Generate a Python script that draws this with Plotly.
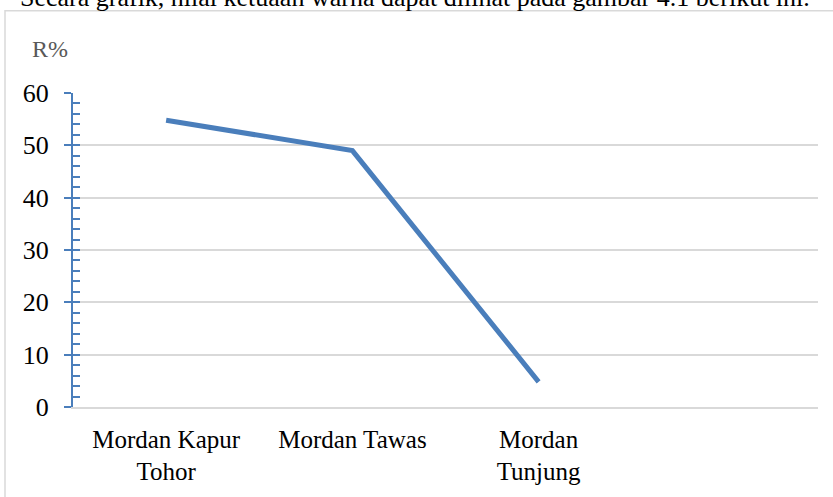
import plotly.graph_objects as go

categories = ["Mordan Kapur<br>Tohor", "Mordan Tawas", "Mordan<br>Tunjung", " "]
values = [54.8, 49.0, 4.8]
y_ticks = [0, 10, 20, 30, 40, 50, 60]
y_label = "R%"
caption = "Secara grafik, nilai ketuaan warna dapat dilihat pada gambar 4.1 berikut ini."

W, H = 833, 497
ML, MR, MT, MB = 73, 15, 93, 87
PW, PH = W - ML - MR, H - MT - MB

def px_x(p):
    return (p - ML) / PW

def px_y(p):
    return (H - MB - p) / PH

BLUE = "#4a7ebb"
GRID = "#d9d9d9"
FONT = "Liberation Serif"

xs = list(range(len(values)))

fig = go.Figure()
fig.add_trace(go.Scatter(x=xs, y=values, mode="lines",
                         line=dict(color=BLUE, width=5), showlegend=False,
                         hoverinfo="skip"))
fig.add_trace(go.Scatter(x=[None], y=[None], yaxis="y2", showlegend=False,
                         hoverinfo="skip"))

fig.update_layout(
    width=W, height=H,
    margin=dict(l=ML, r=MR, t=MT, b=MB),
    paper_bgcolor="white", plot_bgcolor="white",
    font=dict(family=FONT, size=25, color="black"),
    xaxis=dict(
        range=[-0.5, len(categories) - 0.5],
        tickvals=list(range(len(categories))),
        ticktext=categories,
        showgrid=False, zeroline=False,
        showline=True, linecolor=GRID, linewidth=1.5,
        ticks="", tickfont=dict(family=FONT, size=25, color="black"),
        ticklabelstandoff=9,
    ),
    yaxis=dict(
        range=[0, 60], tickvals=y_ticks,
        showgrid=True, gridcolor=GRID, gridwidth=1.5,
        zeroline=False,
        showline=True, linecolor=BLUE, linewidth=2,
        ticks="outside", ticklen=7, tickwidth=2, tickcolor=BLUE,
        tickfont=dict(family=FONT, size=26, color="black"),
        ticklabelstandoff=10,
    ),
    yaxis2=dict(
        range=[0, 60], overlaying="y", side="left", anchor="x",
        dtick=2, tick0=0, showgrid=False, zeroline=False, showline=False,
        ticks="inside", ticklen=7, tickwidth=2, tickcolor=BLUE,
        showticklabels=False,
    ),
    shapes=[
        dict(type="rect", xref="paper", yref="paper",
             x0=px_x(5), x1=px_x(W + 20), y0=px_y(H + 20), y1=px_y(10),
             line=dict(color=GRID, width=1.5), fillcolor="rgba(0,0,0,0)",
             layer="below"),
    ],
    annotations=[
        dict(text=y_label, xref="paper", yref="paper",
             x=px_x(50), y=px_y(49), xanchor="center", yanchor="middle",
             showarrow=False, font=dict(family=FONT, size=24, color="#595959")),
        dict(text=caption, xref="paper", yref="paper",
             x=px_x(18), y=px_y(-3), xanchor="left", yanchor="middle",
             showarrow=False, font=dict(family=FONT, size=26, color="black")),
    ],
)

fig.write_html("out.html")
